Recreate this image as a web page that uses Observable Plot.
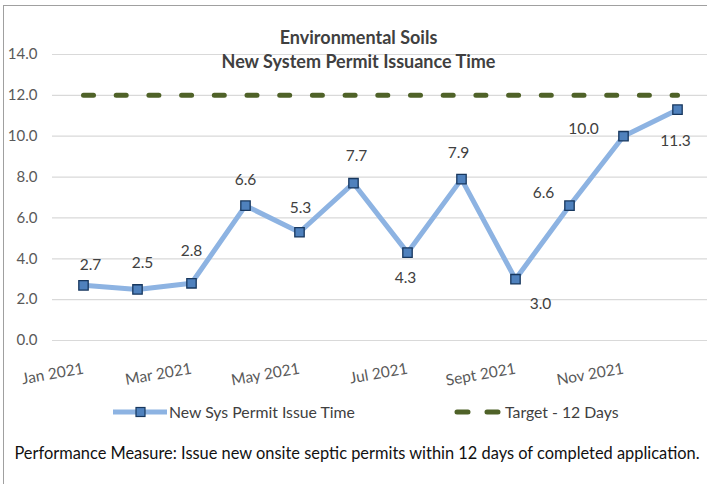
<!DOCTYPE html>
<html>
<head>
<meta charset="utf-8">
<script src="https://cdn.jsdelivr.net/npm/d3@7"></script>
<script src="https://cdn.jsdelivr.net/npm/@observablehq/plot@0.6"></script>
<style>
  html, body { margin: 0; padding: 0; background: #fff; }
  #wrap { position: relative; width: 707px; height: 484px; overflow: hidden; font-family: Lato, "Open Sans", sans-serif; }
  #frame { position: absolute; left: 3px; top: 5px; width: 720px; height: 490px; border-left: 1.5px solid #a0a0a0; border-top: 1.5px solid #a0a0a0; box-sizing: border-box; pointer-events: none; }
  .title { position: absolute; left: 0; width: 717px; text-align: center; font-weight: bold; font-size: 18px; color: #404040; }
  .leg { position: absolute; top: 402px; font-size: 15.8px; color: #404040; display: flex; align-items: center; white-space: nowrap; }
  #caption { position: absolute; left: 0; width: 714px; top: 443px; text-align: center; font-size: 16.4px; color: #111; white-space: nowrap; }
</style>
</head>
<body>
<div id="wrap">
  <div id="chart"></div>
  <div class="title" style="top:26px">Environmental Soils</div>
  <div class="title" style="top:50px">New System Permit Issuance Time</div>
  <div class="leg" style="left:112px">
    <svg width="56" height="14"><line x1="1" y1="7" x2="55" y2="7" stroke="#8db3e2" stroke-width="5"/><rect x="24" y="2.5" width="9" height="9" fill="#4f81bd" stroke="#17375e" stroke-width="1.2"/></svg>
    <span style="margin-left:1px">New Sys Permit Issue Time</span>
  </div>
  <div class="leg" style="left:452px">
    <svg width="52" height="14"><line x1="5" y1="7" x2="50" y2="7" stroke="#4f6228" stroke-width="5" stroke-linecap="round" stroke-dasharray="11,19"/></svg>
    <span style="margin-left:1px">Target - 12 Days</span>
  </div>
  <div id="caption">Performance Measure: Issue new onsite septic permits within 12 days of completed application.</div>
  <div id="frame"></div>
</div>
<script>
const months = ["Jan 2021","Feb 2021","Mar 2021","Apr 2021","May 2021","Jun 2021","Jul 2021","Aug 2021","Sept 2021","Oct 2021","Nov 2021","Dec 2021"];
const issueTime = [2.7, 2.5, 2.8, 6.6, 5.3, 7.7, 4.3, 7.9, 3.0, 6.6, 10.0, 11.3];
const target = [12, 12, 12, 12, 12, 12, 12, 12, 12, 12, 12, 12];
const tickLabels = ["Jan 2021","Mar 2021","May 2021","Jul 2021","Sept 2021","Nov 2021"];
const yTicks = [0, 2, 4, 6, 8, 10, 12, 14];

const data = months.map((m, i) => ({month: m, value: issueTime[i], target: target[i]}));

// label placement (style only): pixel offsets per month
const labelOffset = {
  "Jan 2021": [7, -20], "Feb 2021": [5, -26], "Mar 2021": [0, -32], "Apr 2021": [0, -26],
  "May 2021": [1, -24], "Jun 2021": [3, -27], "Jul 2021": [-2, 25], "Aug 2021": [-3, -26],
  "Sept 2021": [25, 25], "Oct 2021": [-26, -13], "Nov 2021": [-40, -7], "Dec 2021": [-2, 31]
};
const labelMarks = months.map(m => Plot.text(data.filter(d => d.month === m), {
  x: "month", y: "value", text: d => d.value.toFixed(1),
  dx: labelOffset[m][0], dy: labelOffset[m][1],
  fill: "#404040", fontSize: 15.5
}));

const chart = Plot.plot({
  width: 707,
  height: 400,
  marginTop: 54,
  marginBottom: 60,
  marginLeft: 52,
  marginRight: 0,
  style: {fontFamily: "Lato, 'Open Sans', sans-serif", background: "transparent", overflow: "visible"},
  x: {type: "point", domain: months, padding: 0.5, align: 0.5},
  y: {domain: [0, 14]},
  marks: [
    Plot.gridY(yTicks, {stroke: "#d9d9d9", strokeOpacity: 1, strokeWidth: 1.2}),
    Plot.axisY(yTicks, {tickSize: 0, tickPadding: 15, tickFormat: d => d.toFixed(1), fontSize: 15, fill: "#595959", label: null}),
    Plot.axisX(tickLabels, {tickSize: 0, tickPadding: 0, rotate: -10, textAnchor: "end", lineAnchor: "middle", dy: 28, fontSize: 15.5, fill: "#595959", label: null}),
    Plot.lineY(data, {x: "month", y: "target", stroke: "#4f6228", strokeWidth: 5, strokeLinecap: "round", strokeDasharray: "10,22.7"}),
    Plot.lineY(data, {x: "month", y: "value", stroke: "#8db3e2", strokeWidth: 5, strokeLinejoin: "round"}),
    Plot.dot(data, {x: "month", y: "value", symbol: "square", r: 5.3, fill: "#4f81bd", stroke: "#17375e", strokeWidth: 1.3}),
    ...labelMarks
  ]
});
document.getElementById("chart").appendChild(chart);
</script>
</body>
</html>
